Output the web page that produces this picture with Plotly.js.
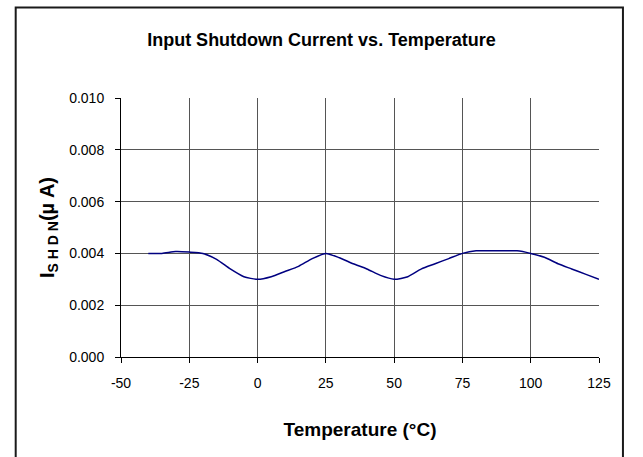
<!DOCTYPE html>
<html>
<head>
<meta charset="utf-8">
<script src="https://cdn.plot.ly/plotly-3.0.1.min.js"></script>
<style>
html,body{margin:0;padding:0;background:#fff;}
#chart{width:643px;height:457px;}
</style>
</head>
<body>
<div id="chart"></div>
<script>
// Data
const temperatureC = [-40,-35,-30,-25,-20,-15,-10,-5,0,5,10,15,20,25,30,35,40,45,50,55,60,65,70,75,80,85,90,95,100,105,110,115,120,125];
const shutdownCurrentUA = [0.0040,0.0040,0.00407,0.00405,0.0040,0.00377,0.0034,0.0031,0.0030,0.0031,0.0033,0.0035,0.0038,0.0040,0.00383,0.0036,0.0034,0.00315,0.0030,0.0031,0.0034,0.0036,0.0038,0.0040,0.0041,0.0041,0.0041,0.0041,0.0040,0.00385,0.0036,0.0034,0.0032,0.0030];
const xTicks = [-50,-25,0,25,50,75,100,125];
const yTicks = [0,0.002,0.004,0.006,0.008,0.010];

const FONT = '"Liberation Sans", Arial, sans-serif';

const trace = {
  x: temperatureC,
  y: shutdownCurrentUA,
  type: 'scatter',
  mode: 'lines',
  line: {color: '#000080', width: 1.5, shape: 'spline', smoothing: 0.6},
  hoverinfo: 'x+y',
  showlegend: false
};

const layout = {
  width: 643,
  height: 457,
  paper_bgcolor: '#ffffff',
  plot_bgcolor: '#ffffff',
  margin: {l: 120.5, r: 43.5, t: 98, b: 100, pad: 0},
  font: {family: FONT, color: '#000', size: 12},
  title: {
    text: '<b>Input Shutdown Current vs. Temperature</b>',
    font: {family: FONT, size: 18, color: '#000'},
    x: 0.5, xanchor: 'center', xref: 'container',
    y: 1 - 40/457, yanchor: 'middle', yref: 'container'
  },
  xaxis: {
    range: [-50, 125],
    tickvals: xTicks,
    ticktext: xTicks.map(String),
    ticks: 'outside', ticklen: 5, tickcolor: '#000', tickwidth: 1,
    ticklabelstandoff: 8,
    showgrid: true, gridcolor: '#555', gridwidth: 1,
    showline: true, linecolor: '#000', linewidth: 1,
    zeroline: false,
    tickfont: {family: FONT, size: 14, color: '#000'},
    title: {text: '<b>Temperature (°C)</b>', font: {family: FONT, size: 19, color: '#000'}, standoff: 32},
    fixedrange: true
  },
  yaxis: {
    range: [0, 0.010],
    tickvals: yTicks,
    ticktext: yTicks.map(v => v.toFixed(3)),
    ticks: 'outside', ticklen: 5, tickcolor: '#000', tickwidth: 1,
    ticklabelstandoff: 8,
    showgrid: true, gridcolor: '#555', gridwidth: 1,
    showline: true, linecolor: '#000', linewidth: 1,
    zeroline: false,
    tickfont: {family: FONT, size: 14, color: '#000'},
    title: {text: '<b>I<sub>S H D N</sub>(µ A)</b>', font: {family: FONT, size: 20, color: '#000'}, standoff: 9},
    fixedrange: true
  },
  shapes: [
    {type: 'path', xref: 'paper', yref: 'paper',
     path: 'M -0.2203 -0.5 L -0.2203 1.349 L 1.0501 1.349 L 1.0501 -0.5',
     line: {color: '#1a1a1a', width: 2}, layer: 'above'}
  ]
};

Plotly.newPlot('chart', [trace], layout, {staticPlot: true, displayModeBar: false});
</script>
</body>
</html>
